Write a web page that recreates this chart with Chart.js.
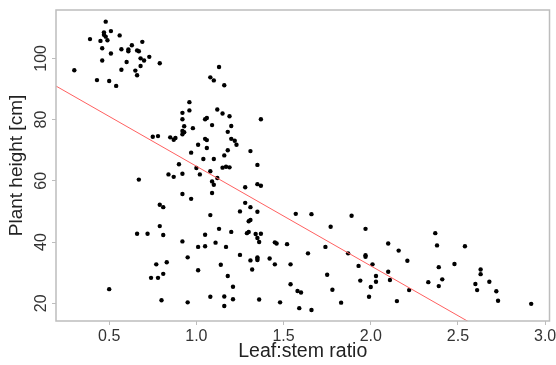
<!DOCTYPE html>
<html>
<head>
<meta charset="utf-8">
<script src="https://cdn.jsdelivr.net/npm/chart.js@4/dist/chart.umd.min.js"></script>
<style>
  html, body { margin: 0; padding: 0; background: #fff; }
  #wrap { width: 556px; height: 365px; }
</style>
</head>
<body>
<div id="wrap"><canvas id="c" width="556" height="365"></canvas></div>
<script>
// Leaf:stem ratio of each plant
const ratio = [
  0.48,0.39,0.45,0.47,0.47,0.48,0.49,0.51,0.56,0.46,0.57,0.51,0.46,0.69,0.63,0.61,
  0.61,0.66,0.67,0.68,0.70,0.73,0.79,0.60,0.68,0.57,0.65,0.66,0.30,0.43,0.50,0.54,
  0.75,0.78,0.85,0.87,0.88,0.90,0.84,0.87,0.67,
  1.13,1.08,1.10,1.16,0.96,0.92,0.96,0.92,1.12,1.15,1.19,1.05,1.06,1.37,0.93,0.98,
  1.09,1.20,0.92,0.93,0.92,1.18,1.05,1.06,1.20,1.22,1.23,1.01,1.06,1.18,1.31,0.97,
  1.16,1.04,1.10,1.35,1.15,1.17,1.19,1.00,0.92,1.02,1.08,1.12,
  1.09,1.10,1.09,0.92,0.97,1.28,1.35,1.37,1.28,1.31,1.25,1.35,1.31,1.30,1.08,1.13,
  1.20,1.05,1.29,1.30,1.34,1.37,1.35,1.36,1.45,1.46,1.52,1.57,0.92,1.01,1.05,1.11,
  1.17,0.95,1.25,1.31,1.35,1.35,1.35,1.42,1.45,1.54,1.14,1.01,1.32,1.18,1.21,1.54,
  1.58,1.08,1.16,1.21,1.36,1.48,0.95,1.16,1.59,
  0.66,0.72,0.79,0.81,0.77,0.83,0.81,0.74,0.78,0.80,0.79,0.81,0.50,
  1.66,1.89,1.77,1.97,2.37,1.74,2.10,2.38,2.54,1.64,1.87,1.97,1.97,2.16,2.21,1.93,
  2.01,2.39,2.48,2.10,2.63,2.63,1.75,2.03,1.94,2.03,2.11,2.33,2.41,2.68,2.60,2.39,
  2.00,1.60,1.78,2.22,2.61,2.72,1.99,1.83,2.15,2.73,1.66,2.92
];
// Plant height [cm], same order as ratio
const height = [
  112.0,106.3,105.7,108.5,107.7,107.1,105.9,108.9,107.5,103.3,103.0,101.6,99.3,105.4,104.3,102.9,
  102.3,102.6,102.3,100.0,99.3,100.5,98.4,98.8,97.5,96.3,96.0,94.5,96.1,92.9,92.6,91.0,
  74.4,74.6,74.2,73.4,74.0,65.4,62.1,61.3,60.4,
  97.2,93.8,92.8,91.2,85.7,82.2,83.0,80.1,83.3,82.0,81.1,80.1,80.5,80.1,77.8,77.2,
  78.2,77.9,76.3,75.9,75.2,76.0,73.7,73.3,73.7,73.1,71.8,71.8,70.7,70.0,69.7,69.2,
  68.3,67.1,67.1,65.2,64.3,64.6,64.4,64.2,62.3,62.1,63.1,60.9,
  59.8,58.7,56.0,55.7,54.1,57.9,58.9,58.4,52.8,51.4,50.0,49.9,47.2,46.8,48.8,44.3,
  43.3,42.4,42.9,43.3,42.6,42.7,41.3,40.0,39.9,39.5,39.3,49.2,40.2,38.4,38.6,39.8,
  38.4,35.0,35.8,34.0,35.0,34.5,34.1,34.6,32.7,32.7,32.6,30.8,31.0,28.9,25.4,26.2,
  24.0,22.1,22.2,21.3,21.2,20.3,20.3,19.1,18.4,
  42.7,42.7,45.2,42.3,32.7,33.4,29.6,28.3,28.3,21.0,52.2,51.4,24.6,
  49.1,48.6,45.0,44.3,42.9,38.4,39.5,38.9,38.6,36.3,36.3,35.7,35.2,37.2,33.9,32.2,
  32.7,31.8,32.8,30.3,31.0,29.5,29.3,28.9,27.4,27.0,27.6,26.9,27.8,27.0,26.3,25.6,
  25.3,23.5,24.4,24.3,24.3,23.9,22.1,20.2,20.7,20.8,17.8,19.8
];

// Axis ticks and their printed labels
const xTicks = [0.5, 1.0, 1.5, 2.0, 2.5, 3.0];
const xTickLabels = ['0.5', '1.0', '1.5', '2.0', '2.5', '3.0'];
const yTicks = [20, 40, 60, 80, 100];
const yTickLabels = ['20', '40', '60', '80', '100'];

// Plot limits
const xLimits = [0.195, 3.025];
const yLimits = [14.2, 115.8];

// Least-squares fit: height = intercept + slope * ratio
const fitIntercept = 97.3;
const fitSlope = -32.54;

const FONT = '"Liberation Sans", Arial, Helvetica, sans-serif';
const AXIS_GREY = '#bdbdbd';

const points = ratio.map((r, i) => ({ x: r, y: height[i] }));
const fitLine = xLimits.map(x => ({ x: x, y: fitIntercept + fitSlope * x }));

// Gray box around the plot region plus rotated y tick labels
const frameAndLabels = {
  id: 'frameAndLabels',
  afterDraw(chart) {
    const { ctx, chartArea: a, scales } = chart;
    ctx.save();
    ctx.strokeStyle = AXIS_GREY;
    ctx.lineWidth = 1.5;
    ctx.strokeRect(a.left, a.top, a.right - a.left, a.bottom - a.top);

    ctx.fillStyle = '#333';
    ctx.font = '16px ' + FONT;
    ctx.textAlign = 'center';
    ctx.textBaseline = 'alphabetic';
    yTicks.forEach((v, i) => {
      const py = scales.y.getPixelForValue(v);
      ctx.save();
      ctx.translate(a.left - 10, py);
      ctx.rotate(-Math.PI / 2);
      ctx.fillText(yTickLabels[i], 0, 0);
      ctx.restore();
    });
    ctx.restore();
  }
};

new Chart(document.getElementById('c'), {
  type: 'scatter',
  data: {
    datasets: [
      {
        type: 'line',
        data: fitLine,
        borderColor: '#ff6060',
        borderWidth: 1,
        pointRadius: 0,
        fill: false,
        tension: 0
      },
      {
        data: points,
        backgroundColor: '#000',
        borderWidth: 0,
        pointRadius: 2.2,
        pointHoverRadius: 2.2
      }
    ]
  },
  options: {
    responsive: false,
    animation: false,
    devicePixelRatio: 1,
    layout: { padding: { top: 10, right: 6.5, left: 0, bottom: 0 } },
    plugins: { legend: { display: false }, tooltip: { enabled: false } },
    scales: {
      x: {
        type: 'linear',
        min: xLimits[0],
        max: xLimits[1],
        afterBuildTicks: s => { s.ticks = xTicks.map(v => ({ value: v })); },
        afterFit: s => { s.height = 44; s.paddingLeft = 0; s.paddingRight = 0; },
        border: { display: false },
        grid: { drawOnChartArea: false, drawTicks: true, tickLength: 4, color: AXIS_GREY, lineWidth: 1 },
        ticks: {
          padding: 2,
          color: '#333',
          font: { family: FONT, size: 16 },
          maxRotation: 0,
          autoSkip: false,
          callback: (v, i) => xTickLabels[i]
        },
        title: {
          display: true,
          text: 'Leaf:stem ratio',
          color: '#222',
          font: { family: FONT, size: 19.5 },
          padding: { top: 0, bottom: 2 }
        }
      },
      y: {
        type: 'linear',
        min: yLimits[0],
        max: yLimits[1],
        afterBuildTicks: s => { s.ticks = yTicks.map(v => ({ value: v })); },
        afterFit: s => { s.width = 56; s.paddingTop = 0; s.paddingBottom = 0; },
        border: { display: false },
        grid: { drawOnChartArea: false, drawTicks: true, tickLength: 4, color: AXIS_GREY, lineWidth: 1 },
        ticks: { display: false },
        title: {
          display: true,
          text: 'Plant height [cm]',
          color: '#222',
          font: { family: FONT, size: 19 },
          padding: { top: 5, bottom: 0 }
        }
      }
    }
  },
  plugins: [frameAndLabels]
});
</script>
</body>
</html>
